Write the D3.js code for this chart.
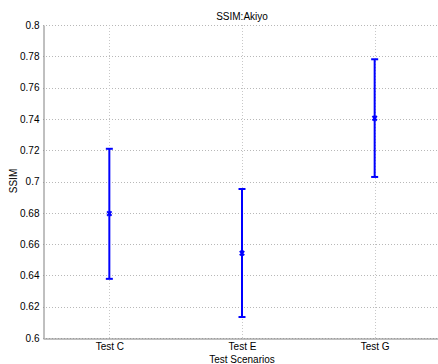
<!DOCTYPE html>
<html>
<head>
<meta charset="utf-8">
<script src="https://cdn.jsdelivr.net/npm/d3@7"></script>
<style>
body{margin:0;background:#fff}
text{font-family:"Liberation Sans",Arial,sans-serif;fill:#000}
</style>
</head>
<body>
<div id="chart"></div>
<script>
var scenarios = ["Test C","Test E","Test G"]
var means = [0.6795,0.6542,0.7404]
var lower = [0.6378,0.6134,0.7029]
var upper = [0.7209,0.6952,0.7781]
var yTicks = [0.6,0.62,0.64,0.66,0.68,0.7,0.72,0.74,0.76,0.78,0.8]

var w = 438, h = 364
var padL = 43, padT = 25, padB = 338, padR = 441

var svg = d3.select("#chart").append("svg").attr("width",w).attr("height",h)

var x = d3.scaleLinear().domain([0.5,3.5]).range([padL,padR])
var y = d3.scaleLinear().domain([0.6,0.8]).range([padB,padT])

// grid
svg.selectAll(".hgrid").data(yTicks).enter().append("line")
	.attr("x1",padL).attr("x2",padR)
	.attr("y1",function(d){return Math.round(y(d))+0.5}).attr("y2",function(d){return Math.round(y(d))+0.5})
	.attr("stroke","#b8b8b8").attr("stroke-width",1).attr("stroke-dasharray","1,2")
svg.selectAll(".vgrid").data(scenarios).enter().append("line")
	.attr("x1",function(d,i){return Math.round(x(i+1))+0.5}).attr("x2",function(d,i){return Math.round(x(i+1))+0.5})
	.attr("y1",padT).attr("y2",padB)
	.attr("stroke","#c8c8c8").attr("stroke-width",1).attr("stroke-dasharray","1,2")

// axes
var yAxis = d3.axisLeft(y).tickValues(yTicks).tickSize(0).tickPadding(4)
	.tickFormat(function(d){return String(+d.toFixed(2))})
var gy = svg.append("g").attr("transform","translate("+(padL+0.5)+",0)").call(yAxis)
gy.select(".domain").attr("stroke","#808080")
gy.selectAll("text").style("font-size","10px")

var xAxis = d3.axisBottom(x).tickValues([1,2,3]).tickSize(0).tickPadding(4)
	.tickFormat(function(d){return scenarios[d-1]})
var gx = svg.append("g").attr("transform","translate(0,"+(padB+0.5)+")").call(xAxis)
gx.select(".domain").attr("stroke","#808080")
gx.selectAll("text").style("font-size","10px")

// error bars
var bars = svg.selectAll(".bar").data(scenarios).enter().append("g")
bars.append("line")
	.attr("x1",function(d,i){return x(i+1)}).attr("x2",function(d,i){return x(i+1)})
	.attr("y1",function(d,i){return y(lower[i])}).attr("y2",function(d,i){return y(upper[i])})
	.attr("stroke","#0000ff").attr("stroke-width",2)
bars.append("line")
	.attr("x1",function(d,i){return x(i+1)-3.5}).attr("x2",function(d,i){return x(i+1)+3.5})
	.attr("y1",function(d,i){return y(lower[i])}).attr("y2",function(d,i){return y(lower[i])})
	.attr("stroke","#0000ff").attr("stroke-width",2)
bars.append("line")
	.attr("x1",function(d,i){return x(i+1)-3.5}).attr("x2",function(d,i){return x(i+1)+3.5})
	.attr("y1",function(d,i){return y(upper[i])}).attr("y2",function(d,i){return y(upper[i])})
	.attr("stroke","#0000ff").attr("stroke-width",2)
bars.append("path")
	.attr("d",function(d,i){
		var cx = x(i+1), cy = y(means[i]), s = 2.2
		return "M"+(cx-s)+","+(cy-s)+"L"+(cx+s)+","+(cy+s)+"M"+(cx-s)+","+(cy+s)+"L"+(cx+s)+","+(cy-s)
	})
	.attr("stroke","#0000ff").attr("stroke-width",2)

// labels
svg.append("text").attr("x",242).attr("y",19.5).attr("text-anchor","middle")
	.style("font-size","10px").text("SSIM:Akiyo")
svg.append("text").attr("x",242).attr("y",362.5).attr("text-anchor","middle")
	.style("font-size","10px").text("Test Scenarios")
svg.append("text").attr("transform","translate(16.5,181) rotate(-90)").attr("text-anchor","middle")
	.style("font-size","10px").text("SSIM")
</script>
</body>
</html>
